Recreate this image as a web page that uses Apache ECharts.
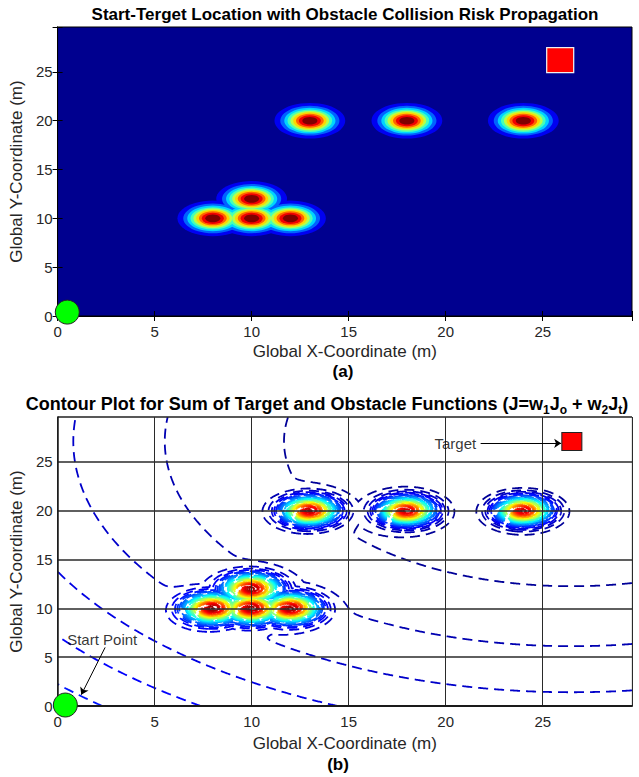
<!DOCTYPE html>
<html><head><meta charset="utf-8">
<script src="https://cdn.jsdelivr.net/npm/echarts@6/dist/echarts.min.js"></script>
<style>html,body{margin:0;padding:0;background:#fff}#c{width:639px;height:777px}</style>
</head><body><div id="c"></div>
<script>
// ---------------- data ----------------
const obstacleX = [8, 10, 12, 10, 13, 18, 24];
const obstacleY = [10, 10, 10, 12, 20, 20, 20];
const startA = [0.5, 0.4];
const targetA = [25.9, 26.2];
const startB = [0.4, 0.1];
const targetB = [26.5, 27.1];
const riskLevels = [0.1, 0.2, 0.3, 0.4, 0.5, 0.6, 0.7, 0.8, 0.9];
const xTicks = [0, 5, 10, 15, 20, 25];
const yTicks = [0, 5, 10, 15, 20, 25];
const obstacleSpread = 0.85;   // sigma of obstacle risk (m)
const obstacleWeight = 8400;   // w1
const targetWeight = 1;        // w2
const contourStep = 220;       // spacing of J contour levels
const annotTexts = ['Target', 'Start Point'];

// ---------------- helpers ----------------
const FONT = "'Liberation Sans', Arial, Helvetica, sans-serif";
const AXMAX = 29.6;
function clamp(v){return Math.max(0, Math.min(1, v));}
function jet(t){
  t = clamp(t);
  const r = Math.round(255*clamp(1.5-Math.abs(4*t-3)));
  const g = Math.round(255*clamp(1.5-Math.abs(4*t-2)));
  const b = Math.round(255*clamp(1.5-Math.abs(4*t-1)));
  return 'rgb('+r+','+g+','+b+')';
}

// ---------------- panel (a): filled risk bands ----------------
const bandData = [];
riskLevels.forEach(function(L, k){
  obstacleX.forEach(function(ox, i){
    bandData.push([ox, obstacleY[i], obstacleSpread*Math.sqrt(-2*Math.log(L)), k+1]);
  });
});

// ---------------- panel (b): contour lines of J ----------------
const STEP = 0.05;
const nx = Math.round(AXMAX/STEP)+1, ny = nx;
const xs = new Float64Array(nx), ys = new Float64Array(ny);
for (let i=0;i<nx;i++) xs[i]=i*STEP;
for (let j=0;j<ny;j++) ys[j]=j*STEP;
const Z = new Float64Array(nx*ny);
const s2 = 2*obstacleSpread*obstacleSpread;
let Jmax = -Infinity;
for (let j=0;j<ny;j++){
  const y = ys[j];
  for (let i=0;i<nx;i++){
    const x = xs[i];
    let jo = 0;
    for (let k=0;k<obstacleX.length;k++){
      const dx=x-obstacleX[k], dy=y-obstacleY[k];
      const d2=dx*dx+dy*dy;
      if (d2<30){ const g=Math.exp(-d2/s2); if (g>jo) jo=g; }
    }
    const tx=x-targetB[0], ty=y-targetB[1];
    const v = targetWeight*(tx*tx+ty*ty) + obstacleWeight*jo;
    Z[j*nx+i]=v; if (v>Jmax) Jmax=v;
  }
}
const levels = [];
for (let k=1;k*contourStep<Jmax;k++) levels.push(k*contourStep);

function edgePoint(e, L){
  const cell = e>>1, i = cell % nx, j = (cell - i)/nx;
  let z0, z1, x0, y0, x1, y1;
  if ((e&1)===0){ z0=Z[j*nx+i]; z1=Z[j*nx+i+1]; x0=xs[i]; x1=xs[i+1]; y0=y1=ys[j]; }
  else { z0=Z[j*nx+i]; z1=Z[(j+1)*nx+i]; x0=x1=xs[i]; y0=ys[j]; y1=ys[j+1]; }
  const t = (L-z0)/(z1-z0);
  return [x0+t*(x1-x0), y0+t*(y1-y0)];
}
const segs = levels.map(function(){return [];});
for (let j=0;j<ny-1;j++){
  for (let i=0;i<nx-1;i++){
    const a=Z[j*nx+i], b=Z[j*nx+i+1], c=Z[(j+1)*nx+i+1], d=Z[(j+1)*nx+i];
    const mn=Math.min(a,b,c,d), mx=Math.max(a,b,c,d);
    let k0=Math.ceil(mn/contourStep)-1, k1=Math.floor(mx/contourStep)-1;
    if (k0<0) k0=0; if (k1>levels.length-1) k1=levels.length-1;
    if (k1<k0) continue;
    const B=(j*nx+i)*2, R=(j*nx+i+1)*2+1, T=((j+1)*nx+i)*2, Le=(j*nx+i)*2+1;
    for (let k=k0;k<=k1;k++){
      const L=levels[k];
      let idx=0;
      if (a>L) idx|=1; if (b>L) idx|=2; if (c>L) idx|=4; if (d>L) idx|=8;
      const S=segs[k];
      switch(idx){
        case 1: case 14: S.push(B,Le); break;
        case 2: case 13: S.push(B,R); break;
        case 3: case 12: S.push(Le,R); break;
        case 4: case 11: S.push(R,T); break;
        case 5: S.push(B,R,Le,T); break;
        case 6: case 9: S.push(B,T); break;
        case 7: case 8: S.push(Le,T); break;
        case 10: S.push(B,Le,R,T); break;
      }
    }
  }
}
function stitch(seg){
  const n=seg.length/2, map=new Map();
  for (let s=0;s<n;s++){
    for (let q=0;q<2;q++){
      const e=seg[2*s+q]; const v=map.get(e);
      if (v===undefined) map.set(e,[s]); else v.push(s);
    }
  }
  const used=new Uint8Array(n), chains=[];
  function walk(start, out){
    let cur=start;
    while(true){
      const lst=map.get(cur); let nxt=-1;
      for (let q=0;q<lst.length;q++){ if(!used[lst[q]]){nxt=lst[q];break;} }
      if (nxt<0) break;
      used[nxt]=1;
      const other = seg[2*nxt]===cur ? seg[2*nxt+1] : seg[2*nxt];
      out.push(other); cur=other;
    }
  }
  for (let s=0;s<n;s++){
    if (used[s]) continue;
    used[s]=1;
    const fwd=[seg[2*s], seg[2*s+1]];
    walk(seg[2*s+1], fwd);
    const back=[];
    walk(seg[2*s], back);
    chains.push(back.reverse().concat(fwd));
  }
  return chains;
}
const contourData = [];
levels.forEach(function(L, k){
  const col = jet(L/Jmax);
  stitch(segs[k]).forEach(function(ch){
    if (ch.length<3) return;
    contourData.push({coords: ch.map(function(e){return edgePoint(e, L);}), lineStyle:{color: col}});
  });
});

// ---------------- chart ----------------
const chart = echarts.init(document.getElementById('c'), null, {renderer:'svg', width:639, height:777});
const tickLabel = {fontSize:15, color:'#262626', fontFamily:FONT};
const nameStyle = {fontSize:17, color:'#262626', fontFamily:FONT};
const blackLine = {show:true, lineStyle:{color:'#000', width:1}};
function boxAxis(type, pos, grid){
  return {type:'value', gridIndex:grid, position:pos, min:0, max:AXMAX, interval:5,
    axisLine:blackLine, axisTick:{show:true, inside:true, length:5, lineStyle:{color:'#000'}},
    axisLabel:{show:false}, splitLine:{show:false}};
}
const option = {
  animation:false,
  backgroundColor:'#fff',
  textStyle:{fontFamily:FONT},
  grid:[
    {left:55, top:27, width:577, height:289, show:true, backgroundColor:'#00008F', borderColor:'#000', borderWidth:1},
    {left:50, top:417, width:582, height:289, show:true, backgroundColor:'#fff', borderColor:'#c8c8c8', borderWidth:1}
  ],
  xAxis:[
    {type:'value', gridIndex:0, position:'bottom', min:0, max:AXMAX, interval:5,
     axisLine:blackLine, axisTick:{show:true, inside:true, length:5, lineStyle:{color:'#000'}},
     axisLabel:Object.assign({margin:8, formatter:function(v){return xTicks.indexOf(v)>=0?String(v):'';}}, tickLabel),
     splitLine:{show:false},
     name:'Global X-Coordinate (m)', nameLocation:'middle', nameGap:27, nameTextStyle:nameStyle},
    boxAxis('x','top',0),
    {type:'value', gridIndex:1, position:'bottom', min:0, max:AXMAX, interval:5, z:5,
     axisLine:{show:true, lineStyle:{color:'#1a1a1a', width:2}}, axisTick:{show:false},
     axisLabel:Object.assign({margin:8, formatter:function(v){return xTicks.indexOf(v)>=0?String(v):'';}}, tickLabel),
     splitLine:{show:true, lineStyle:{color:'#2a2a2a', width:1}},
     name:'Global X-Coordinate (m)', nameLocation:'middle', nameGap:29, nameTextStyle:nameStyle}
  ],
  yAxis:[
    {type:'value', gridIndex:0, position:'left', min:0, max:AXMAX, interval:5,
     axisLine:blackLine, axisTick:{show:true, inside:true, length:5, lineStyle:{color:'#000'}},
     axisLabel:Object.assign({margin:5, formatter:function(v){return yTicks.indexOf(v)>=0?String(v):'';}}, tickLabel),
     splitLine:{show:false},
     name:'Global Y-Coordinate (m)', nameLocation:'middle', nameGap:28, nameTextStyle:nameStyle},
    boxAxis('y','right',0),
    {type:'value', gridIndex:1, position:'left', min:0, max:AXMAX, interval:5, z:5,
     axisLine:{show:true, lineStyle:{color:'#1a1a1a', width:1.5}}, axisTick:{show:false},
     axisLabel:Object.assign({margin:5, formatter:function(v){return yTicks.indexOf(v)>=0?String(v):'';}}, tickLabel),
     splitLine:{show:true, lineStyle:{color:'#2a2a2a', width:1.6}},
     name:'Global Y-Coordinate (m)', nameLocation:'middle', nameGap:27, nameTextStyle:nameStyle}
  ],
  graphic:[
    {type:'text', x:345, y:14, style:{text:'Start-Terget Location with Obstacle Collision Risk Propagation', fontSize:17, fontWeight:'bold', fontFamily:FONT, fill:'#000', textAlign:'center', textVerticalAlign:'middle'}},
    {type:'text', x:343, y:371, style:{text:'(a)', fontSize:17, fontWeight:'bold', fontFamily:FONT, fill:'#000', textAlign:'center', textVerticalAlign:'middle'}},
    {type:'text', x:327, y:404, style:{text:'Contour Plot for Sum of Target and Obstacle Functions (J=w{s|1}J{s|o} + w{s|2}J{s|t})', fontSize:18, fontWeight:'bold', fontFamily:FONT, fill:'#000', textAlign:'center', textVerticalAlign:'middle', lineHeight:24,
      rich:{s:{fontSize:12, fontWeight:'bold', fontFamily:FONT, fill:'#000', verticalAlign:'bottom', lineHeight:12}}}},
    {type:'text', x:338, y:764, style:{text:'(b)', fontSize:17, fontWeight:'bold', fontFamily:FONT, fill:'#000', textAlign:'center', textVerticalAlign:'middle'}}
  ],
  series:[
    {type:'custom', xAxisIndex:0, yAxisIndex:0, clip:true, silent:true, encode:{x:0, y:1}, data:bandData,
     renderItem:function(params, api){
       const c = api.coord([api.value(0), api.value(1)]);
       const s = api.size([api.value(2), api.value(2)]);
       return {type:'circle', x:c[0], y:c[1], scaleX:1, scaleY:s[1]/s[0], z2:api.value(3),
               shape:{cx:0, cy:0, r:s[0]}, style:{fill:jet(api.value(3)/riskLevels.length), stroke:null}};
     }},
    {type:'scatter', xAxisIndex:0, yAxisIndex:0, silent:true, z:10,
     data:[{value:targetA, symbol:'rect', symbolSize:[27,25], itemStyle:{color:'#ff0000', opacity:1, borderColor:'#f0f0f0', borderWidth:1.2}},
           {value:startA, symbol:'circle', symbolSize:24, itemStyle:{color:'#00ff00', opacity:1, borderColor:'#222', borderWidth:1}}]},
    {type:'lines', coordinateSystem:'cartesian2d', xAxisIndex:2, yAxisIndex:2, polyline:true, silent:true,
     lineStyle:{width:1.8, type:[10,6], opacity:1}, data:contourData, z:2},
    {type:'lines', coordinateSystem:'cartesian2d', xAxisIndex:2, yAxisIndex:2, silent:true, z:12,
     symbol:['none','arrow'], symbolSize:7,
     lineStyle:{color:'#000', width:1, type:'solid', opacity:1},
     data:[{coords:[[21.8,26.9],[25.95,26.9]]},{coords:[[2.45,6.0],[1.22,1.15]]}]},
    {type:'scatter', xAxisIndex:2, yAxisIndex:2, silent:true, z:12,
     data:[{value:targetB, symbol:'rect', symbolSize:[20,18], itemStyle:{color:'#ff0000', opacity:1, borderColor:'#222', borderWidth:1}},
           {value:startB, symbol:'circle', symbolSize:24, itemStyle:{color:'#00ff00', opacity:1, borderColor:'#222', borderWidth:1}}]},
    {type:'scatter', xAxisIndex:2, yAxisIndex:2, silent:true, z:12, symbolSize:1, itemStyle:{color:'rgba(0,0,0,0)'},
     label:{show:true, formatter:'{b}', fontSize:15, color:'#000', fontFamily:FONT},
     data:[{value:[21.75,26.9], name:annotTexts[0], label:{position:'left', distance:3}},
           {value:[2.3,5.95], name:annotTexts[1], label:{position:'top', distance:0}}]}
  ]
};
chart.setOption(option);
</script>
</body></html>
